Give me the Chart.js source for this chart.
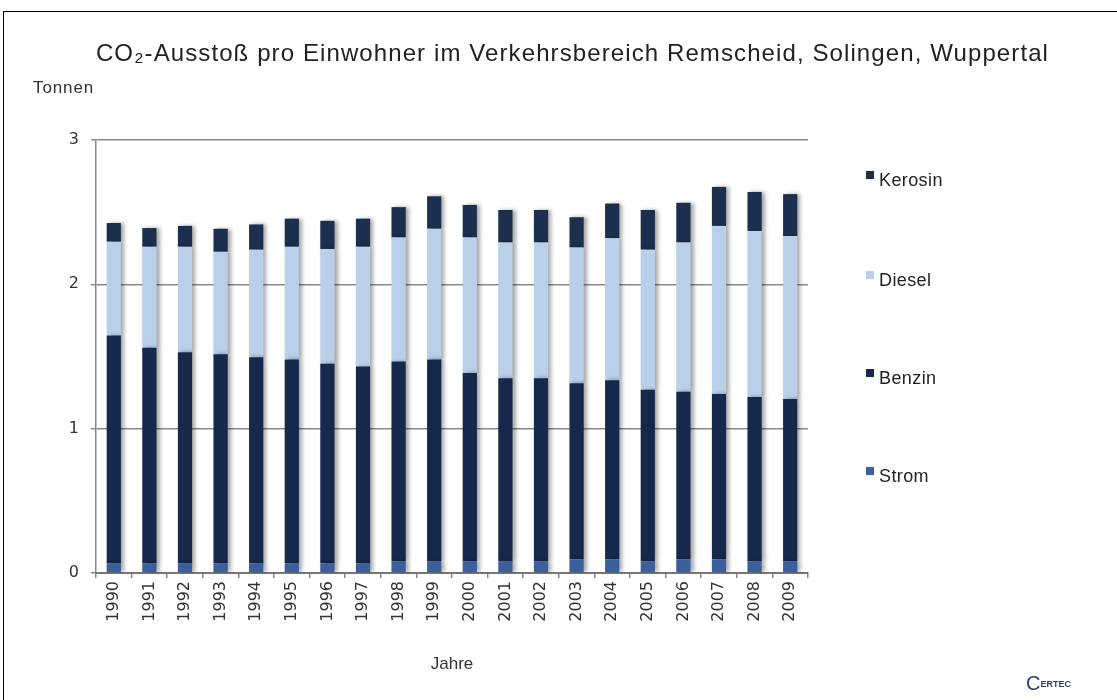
<!DOCTYPE html>
<html>
<head>
<meta charset="utf-8">
<script src="https://cdn.jsdelivr.net/npm/chart.js@4.4.0/dist/chart.umd.min.js"></script>
<style>
  body { margin: 0; background: #fff; font-family: "Liberation Sans", sans-serif; }
  #wrap { position: relative; width: 1117px; height: 700px; overflow: hidden; }
  #frame { position: absolute; left: 3px; top: 11px; right: -2px; bottom: -2px; border-top: 1px solid #000; border-left: 1px solid #000; }
  #chart { position: absolute; left: 0; top: 0; }
  .title { position: absolute; left: 14px; width: 1117px; top: 39px; text-align: center; font-size: 24px; color: #222; letter-spacing: 1.1px; }
  .tonnen { position: absolute; left: 33px; top: 78px; font-size: 17px; color: #333; letter-spacing: 0.9px; }
  .legend { position: absolute; left: 866px; font-size: 18px; color: #222; letter-spacing: 0.4px; }
  .legend span.box { display: inline-block; width: 8px; height: 8px; margin-right: 5px; vertical-align: 7px; }
  .logo { position: absolute; left: 1026px; top: 672px; color: #2e3e7e; font-size: 9px; font-weight: bold; }
  .logo b { font-size: 20px; font-weight: normal; vertical-align: -3px; }
</style>
</head>
<body>
<div id="wrap">
  <div id="frame"></div>
  <canvas id="chart" width="1117" height="700"></canvas>
  <div class="title">CO₂-Ausstoß pro Einwohner im Verkehrsbereich Remscheid, Solingen, Wuppertal</div>
  <div class="tonnen">Tonnen</div>
  <div id="legend"></div>
  <div class="logo"><b>C</b>ERTEC</div>
</div>
<script>
// Daten: Tonnen CO2 pro Einwohner
const jahre = ["1990", "1991", "1992", "1993", "1994", "1995", "1996", "1997", "1998", "1999",
  "2000", "2001", "2002", "2003", "2004", "2005", "2006", "2007", "2008", "2009"]
const strom = [0.065, 0.065, 0.065, 0.065, 0.065, 0.065, 0.065, 0.065, 0.08, 0.08,
  0.08, 0.08, 0.08, 0.095, 0.095, 0.08, 0.095, 0.095, 0.08, 0.08]
const benzin = [1.58, 1.495, 1.465, 1.45, 1.43, 1.415, 1.385, 1.365, 1.385, 1.40,
  1.305, 1.27, 1.27, 1.22, 1.24, 1.19, 1.16, 1.145, 1.14, 1.125]
const diesel = [0.65, 0.70, 0.73, 0.71, 0.745, 0.78, 0.795, 0.83, 0.86, 0.905,
  0.94, 0.94, 0.94, 0.94, 0.985, 0.97, 1.035, 1.165, 1.15, 1.13]
const kerosin = [0.13, 0.13, 0.145, 0.16, 0.175, 0.195, 0.195, 0.195, 0.21, 0.225,
  0.225, 0.225, 0.225, 0.21, 0.24, 0.275, 0.275, 0.27, 0.27, 0.29]
const yTicks = [0, 1, 2, 3]

const datasets = [
  { label: "Strom", data: strom, backgroundColor: "#3b5f9b" },
  { label: "Benzin", data: benzin, backgroundColor: "#16284c" },
  { label: "Diesel", data: diesel, backgroundColor: "#b9cfea" },
  { label: "Kerosin", data: kerosin, backgroundColor: "#1d2f4f" },
].map((d) => ({ ...d, stack: "a", barPercentage: 0.4, categoryPercentage: 1, borderWidth: 0 }))

// Legende (Kerosin oben)
const legendY = [170, 270, 368, 466]
const legend = document.getElementById("legend")
datasets.slice().reverse().forEach((d, i) => {
  const el = document.createElement("div")
  el.className = "legend"
  el.style.top = legendY[i] + "px"
  el.innerHTML = '<span class="box" style="background:' + d.backgroundColor + '"></span>' + d.label
  legend.appendChild(el)
})

// leichter Schatten an den Balken
const shadowPlugin = {
  id: "shadow",
  beforeDatasetsDraw(chart) {
    const ctx = chart.ctx
    ctx.save()
    ctx.shadowColor = "rgba(0,0,0,0.35)"
    ctx.shadowBlur = 4
    ctx.shadowOffsetX = 3
    ctx.shadowOffsetY = 0
  },
  afterDatasetsDraw(chart) {
    chart.ctx.restore()
  },
}

new Chart(document.getElementById("chart"), {
  type: "bar",
  data: { labels: jahre, datasets },
  plugins: [shadowPlugin],
  options: {
    responsive: false,
    animation: false,
    layout: { padding: { left: 0, right: 309, top: 140, bottom: 0 } },
    plugins: { legend: { display: false }, tooltip: { enabled: false } },
    scales: {
      x: {
        stacked: true,
        afterFit: (s) => { s.height = 127 },
        grid: { drawOnChartArea: false, offset: true, tickLength: 5, color: "#888", lineWidth: 1.5 },
        border: { color: "#777", width: 2 },
        ticks: { minRotation: 90, maxRotation: 90, padding: 3, color: "#333", font: { family: "DejaVu Sans", size: 16 } },
        title: { display: true, text: "Jahre", color: "#333", font: { family: "Liberation Sans", size: 17 }, padding: { bottom: 25 } },
      },
      y: {
        stacked: true,
        min: 0,
        max: 3,
        afterFit: (s) => { s.width = 96 },
        afterBuildTicks: (s) => { s.ticks = yTicks.map((v) => ({ value: v })) },
        grid: { color: "#8a8a8a", lineWidth: 1.5, tickLength: 5 },
        border: { color: "#888", width: 1.5 },
        ticks: { padding: 12, color: "#333", font: { family: "DejaVu Sans", size: 16 } },
      },
    },
  },
})
</script>
</body>
</html>
